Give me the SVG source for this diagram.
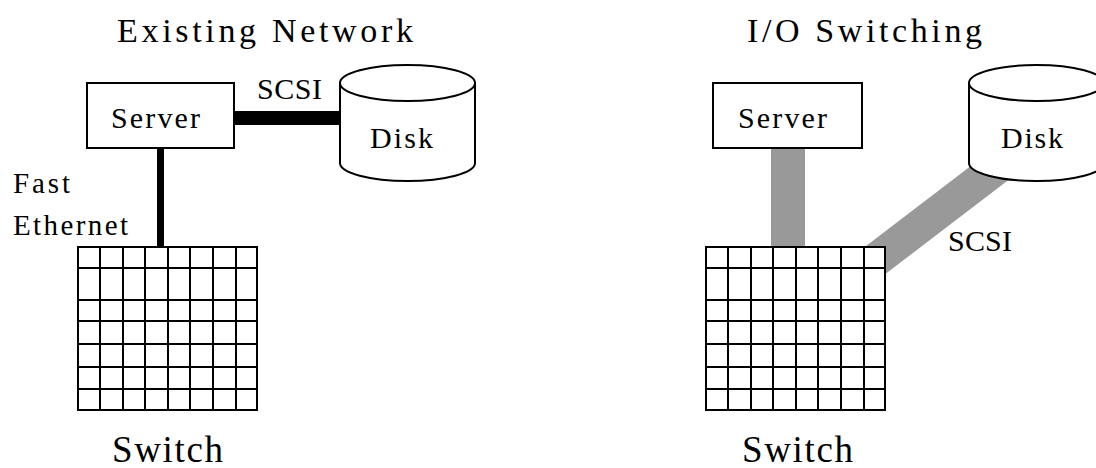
<svg xmlns="http://www.w3.org/2000/svg" width="1096" height="468" viewBox="0 0 1096 468">
<style>
text{font-family:"Liberation Serif","Times New Roman",serif;fill:#000}
.t{font-size:34px}
.l{font-size:30px}
.f{font-size:29px}
.s{font-size:37px}
.box{fill:#fff;stroke:#000;stroke-width:2}
.cyl{fill:#fff;stroke:#000;stroke-width:2}
.grid{fill:none;stroke:#000;stroke-width:2}
.gray{stroke:#999;fill:none;stroke-width:34}
</style>
<defs>
<g id="gridShape">
<rect x="0" y="0" width="179" height="163" fill="#fff" stroke="#000" stroke-width="2"/>
<path class="grid" d="M22,0V163M45,0V163M67,0V163M90,0V163M112,0V163M135,0V163M158,0V163M0,21H179M0,53H179M0,74H179M0,97H179M0,120H179M0,142H179"/>
</g>
</defs>
<g id="connectors">
<line x1="234" y1="118" x2="341" y2="118" stroke="#000" stroke-width="14"/>
<line x1="160.5" y1="148" x2="160.5" y2="248" stroke="#000" stroke-width="7"/>
<line x1="788" y1="148" x2="788" y2="248" class="gray"/>
<line x1="860" y1="272" x2="1004" y2="162" class="gray" stroke-width="32"/>
</g>
<g id="title-left"><text class="t" x="117" y="42" textLength="296" lengthAdjust="spacing">Existing Network</text></g>
<g id="title-right"><text class="t" x="747" y="42" textLength="235" lengthAdjust="spacing">I/O Switching</text></g>
<g id="server-left">
<rect class="box" x="87" y="83" width="147" height="65"/>
<text class="l" x="111" y="128" textLength="89" lengthAdjust="spacing">Server</text>
</g>
<g id="disk-left">
<path class="cyl" d="M340,83V163A67.5,18 0 0 0 475,163V83A67.5,18 0 0 0 340,83Z"/>
<path class="cyl" fill="none" d="M340,83A67.5,18 0 0 0 475,83"/>
<text class="l" x="370" y="148" textLength="63" lengthAdjust="spacing">Disk</text>
</g>
<g id="label-scsi-left"><text class="l" x="257" y="99" textLength="65" lengthAdjust="spacing">SCSI</text></g>
<g id="label-fast-ethernet">
<text class="f" x="13" y="193" textLength="57" lengthAdjust="spacing">Fast</text>
<text class="f" x="13" y="235" textLength="115" lengthAdjust="spacing">Ethernet</text>
</g>
<g id="switch-left">
<use href="#gridShape" x="78" y="247"/>
<text class="s" x="112" y="462" textLength="111" lengthAdjust="spacing">Switch</text>
</g>
<g id="server-right">
<rect class="box" x="713" y="83" width="149" height="65"/>
<text class="l" x="738" y="128" textLength="89" lengthAdjust="spacing">Server</text>
</g>
<g id="disk-right">
<path class="cyl" d="M969,83V163A67.5,18 0 0 0 1104,163V83A67.5,18 0 0 0 969,83Z"/>
<path class="cyl" fill="none" d="M969,83A67.5,18 0 0 0 1104,83"/>
<text class="l" x="1001" y="148" textLength="62" lengthAdjust="spacing">Disk</text>
</g>
<g id="label-scsi-right"><text class="l" x="948" y="251" textLength="64" lengthAdjust="spacing">SCSI</text></g>
<g id="switch-right">
<use href="#gridShape" x="706" y="247"/>
<text class="s" x="742" y="462" textLength="111" lengthAdjust="spacing">Switch</text>
</g>
</svg>
